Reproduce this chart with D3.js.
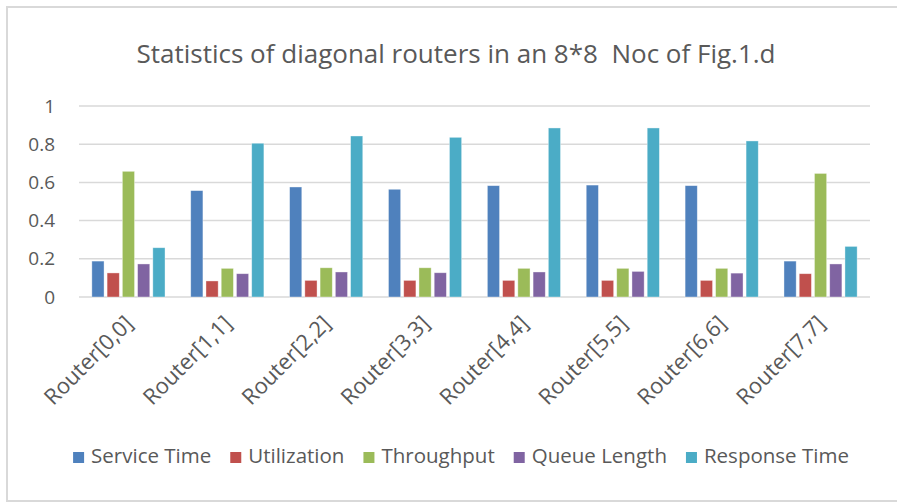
<!DOCTYPE html>
<html>
<head>
<meta charset="utf-8">
<script src="https://cdn.jsdelivr.net/npm/d3@7"></script>
<style>
  body { margin: 0; background: #fff; }
  svg { display: block; font-family: 'Open Sans', 'Liberation Sans', sans-serif; }
</style>
</head>
<body>
<svg id="chart" width="897" height="502"></svg>
<script>
const categories = ['Router[0,0]', 'Router[1,1]', 'Router[2,2]', 'Router[3,3]',
    'Router[4,4]', 'Router[5,5]', 'Router[6,6]', 'Router[7,7]'];
const seriesNames = ['Service Time', 'Utilization', 'Throughput', 'Queue Length', 'Response Time'];
const serviceTime = [0.188, 0.557, 0.576, 0.564, 0.583, 0.586, 0.583, 0.188];
const utilization = [0.126, 0.084, 0.087, 0.087, 0.087, 0.087, 0.087, 0.122];
const throughput = [0.658, 0.150, 0.153, 0.153, 0.150, 0.150, 0.150, 0.647];
const queueLength = [0.173, 0.122, 0.131, 0.127, 0.131, 0.134, 0.125, 0.173];
const responseTime = [0.258, 0.805, 0.843, 0.836, 0.885, 0.885, 0.817, 0.265];
const yTicks = [0, 0.2, 0.4, 0.6, 0.8, 1];
const colors = ['#4F81BD', '#C0504D', '#9BBB59', '#8064A2', '#4BACC6'];
const titleText = 'Statistics of diagonal routers in an 8*8  Noc of Fig.1.d';

const seriesValues = [serviceTime, utilization, throughput, queueLength, responseTime];
const rows = categories.map((c, i) => {
    const row = {key: c};
    seriesNames.forEach((s, j) => row[s] = seriesValues[j][i]);
    return row;
});

const svg = d3.select('#chart');
const textColor = '#595959';
const gridColor = '#d9d9d9';

// outer frame
svg.append('rect')
    .attr('x', 7).attr('y', 7)
    .attr('width', 897).attr('height', 494)
    .attr('fill', 'none')
    .attr('stroke', gridColor)
    .attr('stroke-width', 2);

const plot = {left: 79, right: 870, top: 106, bottom: 297};

const x0 = d3.scaleBand()
    .domain(categories)
    .range([plot.left, plot.right])
    .paddingInner(0.26)
    .paddingOuter(0.13);

const x1 = d3.scaleBand()
    .domain(seriesNames)
    .range([0, x0.bandwidth()])
    .paddingInner(0.2);

const y = d3.scaleLinear()
    .domain([0, 1])
    .range([plot.bottom, plot.top]);

// title
svg.append('text')
    .attr('x', 456)
    .attr('y', 63)
    .attr('text-anchor', 'middle')
    .attr('font-size', 26)
    .attr('fill', textColor)
    .style('white-space', 'pre')
    .text(titleText);

// gridlines
svg.append('g')
    .selectAll('line')
    .data(yTicks)
    .enter().append('line')
    .attr('x1', plot.left).attr('x2', plot.right)
    .attr('y1', d => y(d)).attr('y2', d => y(d))
    .attr('stroke', gridColor)
    .attr('stroke-width', 1.5);

// y axis labels
const yAxis = svg.append('g')
    .attr('transform', `translate(${plot.left}, 0)`)
    .call(d3.axisLeft(y).tickValues(yTicks).tickSize(0).tickPadding(24)
        .tickFormat(d => d3.format('~g')(d)));
yAxis.select('.domain').remove();
yAxis.selectAll('text')
    .attr('font-size', 19)
    .attr('font-family', "'Open Sans', 'Liberation Sans', sans-serif")
    .attr('fill', textColor);

// bars
svg.append('g')
    .selectAll('g')
    .data(rows)
    .enter().append('g')
    .attr('transform', d => `translate(${x0(d.key)},0)`)
    .selectAll('rect')
    .data(d => seriesNames.map(s => ({key: s, value: d[s]})))
    .enter().append('rect')
    .attr('x', d => x1(d.key))
    .attr('y', d => y(d.value))
    .attr('width', x1.bandwidth())
    .attr('height', d => y(0) - y(d.value))
    .attr('fill', (d, i) => colors[i])
    .attr('stroke', '#fff')
    .attr('stroke-opacity', 0.5)
    .attr('stroke-width', 0.75);

// x axis labels
const xAxis = svg.append('g')
    .attr('transform', `translate(0, ${plot.bottom})`)
    .call(d3.axisBottom(x0).tickSize(0).tickPadding(0));
xAxis.select('.domain').remove();
xAxis.selectAll('text')
    .attr('font-size', 22)
    .attr('font-family', "'Open Sans', 'Liberation Sans', sans-serif")
    .attr('fill', textColor)
    .attr('text-anchor', 'end')
    .attr('dy', 0)
    .attr('transform', 'translate(6, 28) rotate(-45)');

// legend
const legend = svg.append('g');
const items = legend.selectAll('g')
    .data(seriesNames)
    .enter().append('g');
items.append('rect')
    .attr('width', 11).attr('height', 11)
    .attr('y', -11)
    .attr('fill', (d, i) => colors[i]);
items.append('text')
    .attr('x', 18)
    .attr('font-size', 20.5)
    .attr('fill', textColor)
    .text(d => d);
let pos = 0;
const gap = 19;
items.each(function () {
    const w = this.getBBox().width;
    d3.select(this).attr('data-x', pos);
    pos += w + gap;
});
const total = pos - gap;
const startX = 461 - total / 2;
items.attr('transform', function () {
    return `translate(${startX + (+d3.select(this).attr('data-x'))}, 463)`;
});
</script>
</body>
</html>
